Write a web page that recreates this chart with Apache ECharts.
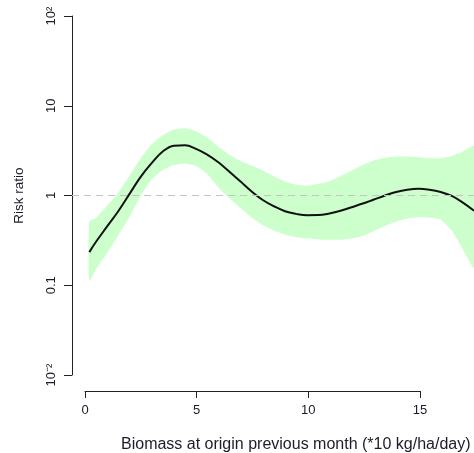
<!DOCTYPE html>
<html>
<head>
<meta charset="utf-8">
<script src="https://cdn.jsdelivr.net/npm/echarts@6/dist/echarts.min.js"></script>
<style>html,body{margin:0;padding:0;background:#fff}#c{width:474px;height:453px}</style>
</head>
<body>
<div id="c"></div>
<script>
var xs = [0.2,0.5,1,1.5,2,2.5,3,3.5,4,4.5,5,5.5,6,6.5,7,7.5,8,8.5,9,9.5,10,10.5,11,11.5,12,12.5,13,13.5,14,14.5,15,15.5,16,16.5,17,17.5];
var riskRatio = [0.234,0.305,0.452,0.668,1.035,1.603,2.291,3.090,3.589,3.631,3.311,2.851,2.344,1.841,1.429,1.109,0.891,0.759,0.668,0.624,0.603,0.605,0.631,0.676,0.741,0.813,0.902,1.0,1.096,1.161,1.189,1.161,1.096,0.989,0.832,0.676];
var upperCI = [0.513,0.562,0.767,1.072,1.660,2.570,3.715,4.677,5.433,5.623,5.188,4.416,3.467,2.851,2.427,2.163,1.905,1.641,1.429,1.318,1.288,1.349,1.445,1.641,1.905,2.188,2.455,2.630,2.723,2.723,2.673,2.600,2.600,2.754,3.090,3.548];
var lowerCI = [0.112,0.151,0.229,0.359,0.575,0.977,1.514,1.928,2.188,2.265,2.138,1.738,1.230,0.933,0.724,0.569,0.468,0.407,0.367,0.343,0.331,0.324,0.321,0.321,0.331,0.355,0.403,0.457,0.513,0.556,0.573,0.569,0.537,0.407,0.251,0.158];
var yTickValues = [0.01,0.1,1,10,100];
var yTickLabels = ['10\u207B\u00B2','0.1','1','10','10\u00B2'];
var xTickLabels = ['0','5','10','15'];
var referenceLevel = 1;
var xTitle = 'Biomass at origin previous month (*10 kg/ha/day)';
var yTitle = 'Risk ratio';

var txt = '#1c1c2c';
var font = '"Liberation Sans", Arial, sans-serif';
var chart = echarts.init(document.getElementById('c'), null, {renderer: 'canvas'});
var lineData = xs.map(function (x, i) { return [x, riskRatio[i]]; });

chart.setOption({
  animation: false,
  title: {
    text: xTitle, left: 116, top: 432,
    textStyle: {fontSize: 16, fontWeight: 'normal', color: txt, fontFamily: font}
  },
  grid: [
    {left: 72, top: 16, width: 403.7, height: 359},
    {left: 85, top: 16, width: 335, height: 375}
  ],
  xAxis: [
    {gridIndex: 0, type: 'value', min: -0.58, max: 17.5, show: false},
    {gridIndex: 1, type: 'value', min: 0, max: 15, interval: 5,
     axisLine: {show: true, onZero: false, lineStyle: {color: '#222', width: 1}},
     axisTick: {show: true, length: 7, lineStyle: {color: '#222'}},
     axisLabel: {margin: 13, fontSize: 13, color: txt, fontFamily: font,
       formatter: function (v) { return xTickLabels[Math.round(v / 5)]; }},
     splitLine: {show: false}}
  ],
  yAxis: [
    {gridIndex: 0, type: 'log', logBase: 10, min: 0.01, max: 100,
     name: yTitle, nameLocation: 'middle', nameGap: 46,
     nameTextStyle: {fontSize: 13.5, color: txt, fontFamily: font},
     axisLine: {show: true, onZero: false, lineStyle: {color: '#222', width: 1}},
     axisTick: {show: true, length: 8, lineStyle: {color: '#222'}},
     axisLabel: {rotate: 90, margin: 14, fontSize: 13, color: txt, fontFamily: font,
       formatter: function (v) {
         var k = Math.round(Math.log10(v));
         var idx = yTickValues.findIndex(function (t) { return Math.round(Math.log10(t)) === k; });
         return idx >= 0 ? yTickLabels[idx] : '';
       }},
     splitLine: {show: false}},
    {gridIndex: 1, type: 'value', show: false}
  ],
  series: [
    {
      type: 'custom', xAxisIndex: 0, yAxisIndex: 0, clip: true, silent: true,
      data: [[0, 1]],
      renderItem: function (params, api) {
        var pts = [];
        for (var i = 0; i < xs.length; i++) pts.push(api.coord([xs[i], upperCI[i]]));
        for (var j = xs.length - 1; j >= 0; j--) pts.push(api.coord([xs[j], lowerCI[j]]));
        return {type: 'polygon', shape: {points: pts, smooth: 0.2}, style: {fill: '#ccffcc', stroke: null}};
      },
      z: 1
    },
    {
      type: 'line', xAxisIndex: 0, yAxisIndex: 0, data: lineData,
      smooth: 0.4, showSymbol: false, symbol: 'none', clip: true, silent: true,
      lineStyle: {color: '#111', width: 2},
      markLine: {
        silent: true, symbol: 'none', label: {show: false},
        lineStyle: {color: '#c4c4c4', type: [7, 5], width: 1},
        data: [{yAxis: referenceLevel}]
      },
      z: 3
    }
  ]
});
</script>
</body>
</html>
